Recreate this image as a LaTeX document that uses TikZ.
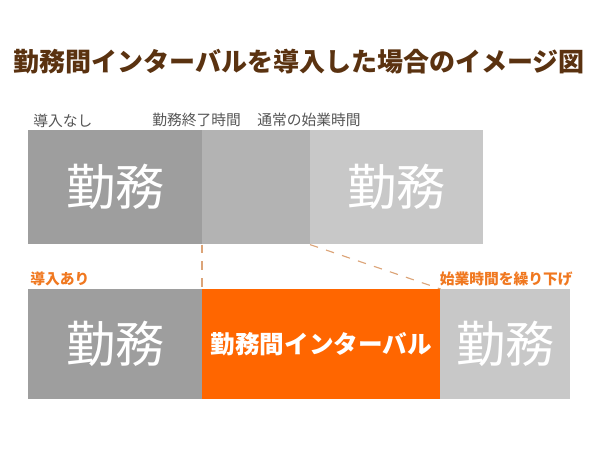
\documentclass[tikz,border=0pt]{standalone}
\usepackage{fontspec}
\newfontfamily\jp{Noto Sans CJK JP}
\usetikzlibrary{positioning}
\definecolor{workdark}{HTML}{9E9E9E}
\definecolor{workmid}{HTML}{B3B3B3}
\definecolor{worklight}{HTML}{C8C8C8}
\definecolor{intorange}{HTML}{FF6600}
\definecolor{labelorange}{HTML}{F07820}
\definecolor{titlebrown}{HTML}{5A3210}
\definecolor{labelgray}{HTML}{555555}
\definecolor{dashtan}{HTML}{DCA478}
\begin{document}
\begin{tikzpicture}[
        x=0.025cm, y=-0.025cm,
        block/.style={rectangle, inner sep=0pt, anchor=north west, minimum height=2.85cm},
        worktext/.style={text=white, font=\jp\fontsize{35}{40}\selectfont},
        smalllabel/.style={text=labelgray, inner sep=0pt, font=\jp\fontsize{10.5}{12}\selectfont},
        hilabel/.style={text=labelorange, inner sep=0pt, font=\jp\bfseries\fontsize{10.5}{12}\selectfont},
        gapline/.style={dashtan, thick, dash pattern=on 6pt off 6pt}
    ]
        \useasboundingbox (0,0) rectangle (600,450);

        % Title
        \node[text=titlebrown, font=\jp\bfseries\fontsize{18.5}{22}\selectfont] (title) at (299,62) {勤務間インターバルを導入した場合のイメージ図};

        % Without interval
        \node[block, fill=workdark, minimum width=4.35cm, worktext] (work1) at (28,130) {勤務};
        \node[block, fill=workmid, minimum width=2.7cm] (gap) at (202,130) {};
        \node[block, fill=worklight, minimum width=4.325cm, worktext] (work2) at (310,130) {勤務};

        \node[smalllabel, anchor=south west] (nolabel) at (33,128) {導入なし};
        \node[smalllabel, anchor=south west] (endlabel) at (152,127) {勤務終了時間};
        \node[smalllabel, anchor=south west] (startlabel) at (257,127) {通常の始業時間};

        % With interval
        \node[block, fill=workdark, minimum width=4.35cm, minimum height=2.75cm, worktext] (work3) at (28,289) {勤務};
        \node[block, fill=intorange, minimum width=5.95cm, minimum height=2.75cm, text=white,
              font=\jp\bfseries\fontsize{17.5}{20}\selectfont] (interval) at (202,289) {勤務間インターバル};
        \node[block, fill=worklight, minimum width=3.25cm, minimum height=2.75cm, worktext] (work4) at (440,289) {勤務};

        \node[hilabel, anchor=south west] (yeslabel) at (30,286) {導入あり};
        \node[hilabel, anchor=south east] (shiftlabel) at (573,286) {始業時間を繰り下げ};

        % Dashed guides
        \draw[gapline] (gap.south west) -- (interval.north west);
        \draw[gapline] (work2.south west) -- (interval.north east);
    \end{tikzpicture}
\end{document}
